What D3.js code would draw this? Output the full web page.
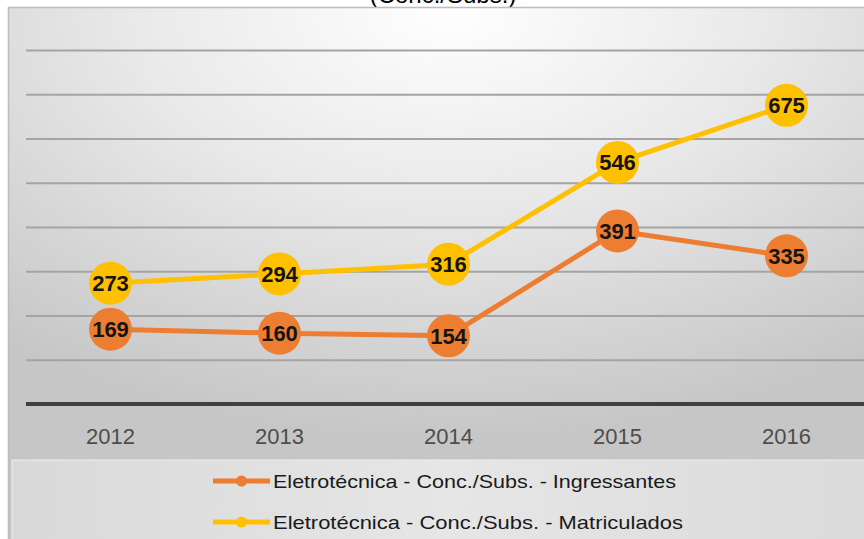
<!DOCTYPE html>
<html><head><meta charset="utf-8">
<script src="https://cdn.jsdelivr.net/npm/d3@7"></script>
<style>body{margin:0;background:#fff}svg{display:block}</style>
</head><body>
<script>
const years = ["2012", "2013", "2014", "2015", "2016"];
const ingressantes = [169, 160, 154, 391, 335];
const matriculados = [273, 294, 316, 546, 675];
const seriesNames = ["Eletrotécnica - Conc./Subs. - Ingressantes", "Eletrotécnica - Conc./Subs. - Matriculados"];
const seriesColors = ["#ED7D31", "#FFC000"];
const gridTicks = [100, 200, 300, 400, 500, 600, 700, 800];
const titleText = "(Conc./Subs.)";

const W = 864, H = 539;
const svg = d3.select("body").append("svg").attr("width", W).attr("height", H);
const defs = svg.append("defs");

const bg = defs.append("radialGradient").attr("id", "bg")
  .attr("cx", "50%").attr("cy", "0%").attr("r", "80%").attr("fx", "50%").attr("fy", "0%");
bg.append("stop").attr("offset", "0%").attr("stop-color", "#ffffff");
bg.append("stop").attr("offset", "45%").attr("stop-color", "#e9e9e9");
bg.append("stop").attr("offset", "100%").attr("stop-color", "#c6c6c6");

const lg = defs.append("linearGradient").attr("id", "lg").attr("x1", "0%").attr("x2", "100%");
lg.append("stop").attr("offset", "0%").attr("stop-color", "#d9d9d9");
lg.append("stop").attr("offset", "50%").attr("stop-color", "#e6e6e6");
lg.append("stop").attr("offset", "100%").attr("stop-color", "#dadada");

// title (mostly cut off, as in the reference)
svg.append("text").attr("x", 443).attr("y", 3).attr("text-anchor", "middle")
  .style("font-family", "Liberation Sans, Arial, sans-serif").style("font-size", "24px")
  .attr("fill", "#000").text(titleText);

// chart area
svg.append("rect").attr("x", 8.5).attr("y", 7.5).attr("width", 880).attr("height", 540)
  .attr("fill", "url(#bg)").attr("stroke", "#bdbdbd").attr("stroke-width", 1.5);

// legend box
svg.append("rect").attr("x", 12).attr("y", 460).attr("width", 870).attr("height", 90)
  .attr("fill", "url(#lg)").attr("stroke", "#eeeeee").attr("stroke-width", 1);

const x = d3.scaleBand().domain(years).range([26, 871]).padding(0);
const y = d3.scaleLinear().domain([0, 800]).range([404, 50]);
const cx = d => x(d) + x.bandwidth() / 2;

// gridlines
const grid = svg.append("g").attr("transform", "translate(26,0)")
  .call(d3.axisLeft(y).tickValues(gridTicks).tickSize(-(W - 26)).tickFormat(""));
grid.select(".domain").remove();
grid.selectAll(".tick line").attr("stroke", "#a4a4a4").attr("stroke-width", 2);

// x axis
const xa = svg.append("g").attr("transform", `translate(0,${y(0)})`)
  .call(d3.axisBottom(x).tickSize(0).tickPadding(24));
xa.select(".domain").attr("d", `M26,0H${W}`).attr("stroke", "#404040").attr("stroke-width", 4);
xa.selectAll(".tick text").attr("fill", "#4d4d4d")
  .style("font-family", "Liberation Sans, Arial, sans-serif").style("font-size", "22px");

const series = [ingressantes, matriculados];
const line = d3.line().x((d, i) => cx(years[i])).y(d => y(d));

series.forEach((vals, s) => {
  const g = svg.append("g");
  g.append("path").datum(vals).attr("d", line).attr("fill", "none")
    .attr("stroke", seriesColors[s]).attr("stroke-width", 5).attr("stroke-linejoin", "round");
  g.selectAll("circle").data(vals).join("circle")
    .attr("cx", (d, i) => cx(years[i])).attr("cy", d => y(d)).attr("r", 21.5)
    .attr("fill", seriesColors[s]);
  g.selectAll("text").data(vals).join("text")
    .attr("x", (d, i) => cx(years[i])).attr("y", d => y(d) + 8)
    .attr("text-anchor", "middle").attr("fill", "#141414")
    .style("font-family", "Liberation Sans, Arial, sans-serif").style("font-size", "22px")
    .style("font-weight", "bold").text(d => d);
});

// legend
const legY = [481, 522];
const legW = [403, 410];
seriesNames.forEach((name, s) => {
  const g = svg.append("g");
  g.append("line").attr("x1", 213).attr("x2", 270).attr("y1", legY[s]).attr("y2", legY[s])
    .attr("stroke", seriesColors[s]).attr("stroke-width", 5);
  g.append("circle").attr("cx", 241.5).attr("cy", legY[s]).attr("r", 5.5).attr("fill", seriesColors[s]);
  g.append("text").attr("x", 273).attr("y", legY[s] + 7)
    .attr("textLength", legW[s]).attr("lengthAdjust", "spacingAndGlyphs")
    .attr("fill", "#1a1a1a")
    .style("font-family", "Liberation Sans, Arial, sans-serif").style("font-size", "19px")
    .text(name);
});
</script>
</body></html>
